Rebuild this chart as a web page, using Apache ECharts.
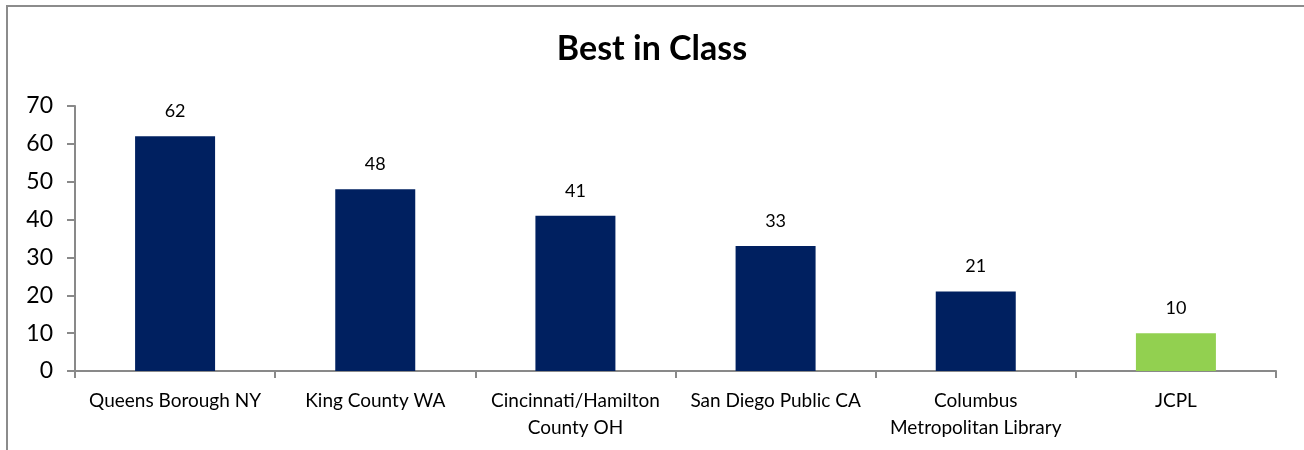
<!DOCTYPE html>
<html>
<head>
<meta charset="utf-8">
<script src="https://cdn.jsdelivr.net/npm/echarts@6/dist/echarts.min.js"></script>
<style>
  html, body { margin: 0; padding: 0; background: #fff; overflow: hidden; width: 1304px; height: 450px; }
  #frame { position: absolute; left: 6px; top: 5px; width: 1320px; height: 470px;
           border-left: 2px solid #8c8c8c; border-top: 2px solid #8c8c8c; }
  #main { position: absolute; left: 0; top: 0; width: 1304px; height: 450px; }
</style>
</head>
<body>
<div id="frame"></div>
<div id="main"></div>
<script>
var categories = ['Queens Borough NY', 'King County WA', 'Cincinnati/Hamilton\nCounty OH',
  'San Diego Public CA', 'Columbus\nMetropolitan Library', 'JCPL']
var values = [62, 48, 41, 33, 21, 10]
var barColors = ['#002060', '#002060', '#002060', '#002060', '#002060', '#92D050']
var yTicks = [0, 10, 20, 30, 40, 50, 60, 70]

var font = 'Lato, "Open Sans", sans-serif'
var axisColor = '#898989'

var chartDom = document.getElementById('main')
var myChart = echarts.init(chartDom)
var option = {
  animation: false,
  title: {
    text: 'Best in Class',
    left: 'center',
    top: 27,
    textStyle: { fontFamily: font, fontSize: 34, fontWeight: 'bold', color: '#000' }
  },
  grid: { left: 75, right: 28, top: 106, bottom: 79 },
  xAxis: {
    type: 'category',
    data: categories,
    axisLine: { lineStyle: { color: axisColor, width: 2 } },
    axisTick: { show: true, alignWithLabel: false, length: 7, lineStyle: { color: axisColor, width: 2 } },
    axisLabel: { fontFamily: font, fontSize: 19, color: '#000', margin: 16, lineHeight: 27, interval: 0 }
  },
  yAxis: {
    type: 'value',
    min: yTicks[0],
    max: yTicks[yTicks.length - 1],
    interval: 10,
    splitLine: { show: false },
    axisLine: { show: true, lineStyle: { color: axisColor, width: 2 } },
    axisTick: { show: true, length: 8, lineStyle: { color: axisColor, width: 2 } },
    axisLabel: { fontFamily: font, fontSize: 23, color: '#000', margin: 22 }
  },
  series: [
    {
      type: 'bar',
      barWidth: 80,
      data: values.map(function (v, i) {
        return { value: v, itemStyle: { color: barColors[i] } }
      }),
      label: {
        show: true,
        position: 'top',
        distance: 16,
        fontFamily: font,
        fontSize: 18,
        color: '#000'
      }
    }
  ]
};
myChart.setOption(option);
</script>
</body>
</html>
